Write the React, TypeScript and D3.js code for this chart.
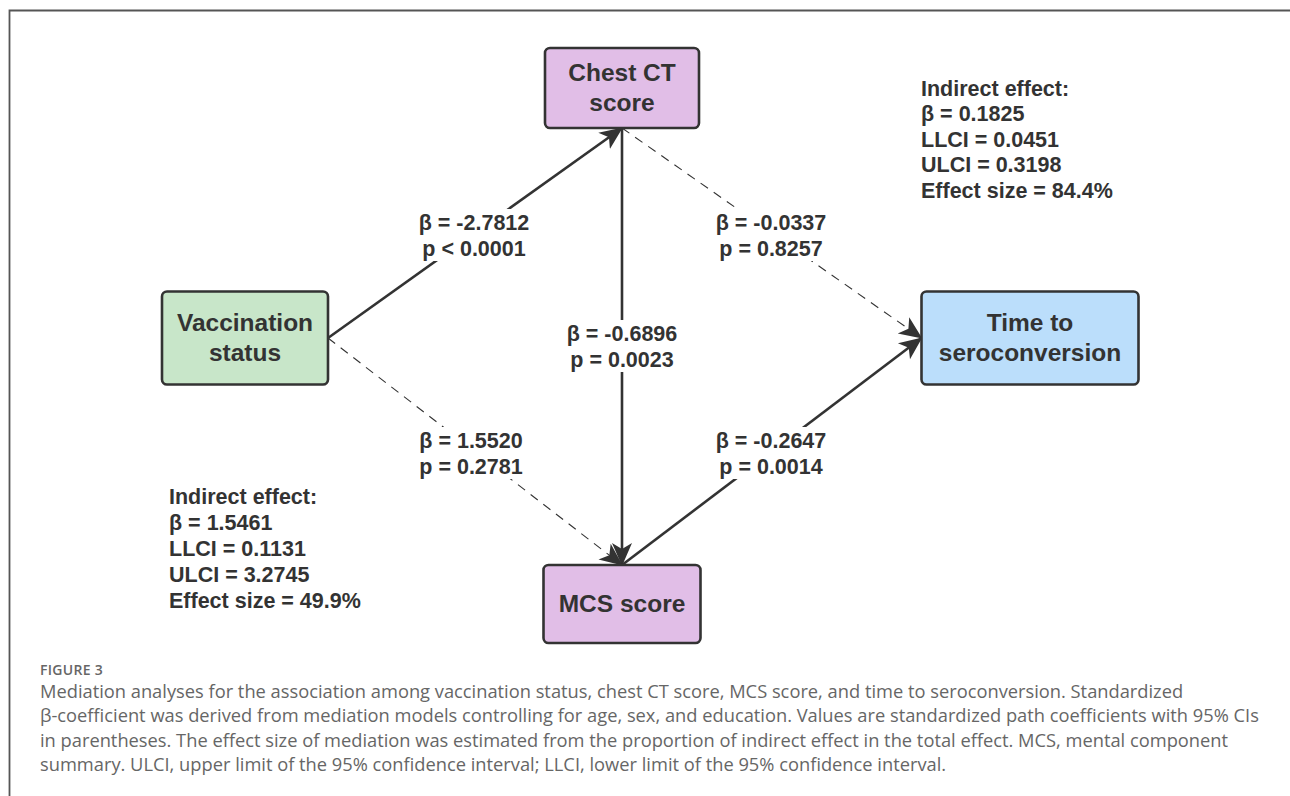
import React from "react";
import * as d3 from "d3";

const nodeNames = ["vacc", "chest", "mcs", "time"];
const nodeLines = [["Vaccination", "status"], ["Chest CT", "score"], ["MCS score"], ["Time to", "seroconversion"]];
const nodeCol = [0, 1, 1, 2];
const nodeRow = [1, 0, 2, 1];
const nodeFill = ["#c8e6c9", "#e1bee7", "#e1bee7", "#bbdefb"];
const nodeW = [166, 154, 157, 217];
const nodeH = [93, 80, 78, 93];

const edgeFrom = ["vacc", "chest", "chest", "vacc", "mcs"];
const edgeTo = ["chest", "time", "mcs", "mcs", "time"];
const edgeDashed = [false, true, false, true, false];
const edgeBeta = ["β = -2.7812", "β = -0.0337", "β = -0.6896", "β = 1.5520", "β = -0.2647"];
const edgeP = ["p < 0.0001", "p = 0.8257", "p = 0.0023", "p = 0.2781", "p = 0.0014"];

const indirectTop = ["Indirect effect:", "β = 0.1825", "LLCI = 0.0451", "ULCI = 0.3198", "Effect size = 84.4%"];
const indirectBottom = ["Indirect effect:", "β = 1.5461", "LLCI = 0.1131", "ULCI = 3.2745", "Effect size = 49.9%"];

const captionTitle = "FIGURE 3";
const captionLines = [
  "Mediation analyses for the association among vaccination status, chest CT score, MCS score, and time to seroconversion. Standardized",
  "β-coefficient was derived from mediation models controlling for age, sex, and education. Values are standardized path coefficients with 95% CIs",
  "in parentheses. The effect size of mediation was estimated from the proportion of indirect effect in the total effect. MCS, mental component",
  "summary. ULCI, upper limit of the 95% confidence interval; LLCI, lower limit of the 95% confidence interval.",
];

const W = 1290;
const H = 796;
const ink = "#333333";
const bold = "'Liberation Sans', Arial, sans-serif";

export default function App() {
  const x = d3.scaleLinear().domain([0, 1, 2]).range([245, 622, 1030]);
  const y = d3.scaleLinear().domain([0, 1, 2]).range([88, 338, 604]);

  const nodes = nodeNames.map((n, i) => {
    const cx = x(nodeCol[i]);
    const cy = y(nodeRow[i]);
    return { name: n, cx, cy, w: nodeW[i], h: nodeH[i], lines: nodeLines[i], fill: nodeFill[i] };
  });
  const byName: Record<string, any> = {};
  nodes.forEach((n) => (byName[n.name] = n));

  const anchor = (from: any, to: any) => {
    const dx = to.cx - from.cx;
    const dy = to.cy - from.cy;
    if (Math.abs(dx) < 1) return dy > 0 ? [from.cx, from.cy + from.h / 2] : [from.cx, from.cy - from.h / 2];
    if (from.name === "chest") return [from.cx, from.cy + from.h / 2];
    if (from.name === "mcs") return [from.cx, from.cy - from.h / 2];
    return dx > 0 ? [from.cx + from.w / 2, from.cy] : [from.cx - from.w / 2, from.cy];
  };

  const edges = edgeFrom.map((f, i) => {
    const a = byName[f];
    const b = byName[edgeTo[i]];
    const p0 = anchor(a, b);
    const p1 = anchor(b, a);
    return { p0, p1, dashed: edgeDashed[i], beta: edgeBeta[i], p: edgeP[i] };
  });
  const labelPos = [
    [474, 222],
    [771, 222],
    [622, 333],
    [471, 440],
    [771, 440],
  ];

  const line = d3.line();

  return (
    <svg width={W} height={H} style={{ display: "block", position: "absolute", left: 0, top: 0 }}>
      <defs>
        <marker id="ah" markerUnits="userSpaceOnUse" markerWidth={26} markerHeight={22} refX={22} refY={10} orient="auto" viewBox="0 0 26 20">
          <path d="M0,0 L23,10 L0,20 L6,10 Z" fill={ink} />
        </marker>
      </defs>
      <rect x={0} y={0} width={W} height={H} fill="#fff" />
      <path d={`M9.5,${H} L9.5,10.5 L${W},10.5`} fill="none" stroke="#555" strokeWidth={1.8} />
      {edges.map((e, i) => (
        <path
          key={"e" + i}
          d={line([e.p0 as [number, number], e.p1 as [number, number]]) || ""}
          stroke={ink}
          strokeWidth={e.dashed ? 1.1 : 2.6}
          strokeDasharray={e.dashed ? "9 7" : undefined}
          fill="none"
          markerEnd="url(#ah)"
        />
      ))}
      {nodes.map((n, i) => (
        <g key={"n" + i}>
          <rect x={n.cx - n.w / 2} y={n.cy - n.h / 2} width={n.w} height={n.h} rx={5} fill={n.fill} stroke={ink} strokeWidth={2.6} />
          {n.lines.map((t: string, j: number) => (
            <text
              key={j}
              x={n.cx}
              y={n.cy + (j - (n.lines.length - 1) / 2) * 30 + 7.5}
              textAnchor="middle"
              fontFamily={bold}
              fontWeight="bold"
              fontSize={24.5}
              fill={ink}
            >
              {t}
            </text>
          ))}
        </g>
      ))}
      {edges.map((e, i) => (
        <g key={"l" + i} fontFamily={bold} fontWeight="bold" fontSize={21.5} fill={ink} textAnchor="middle">
          <rect x={labelPos[i][0] - 60} y={labelPos[i][1] - 13} width={120} height={52} fill="#fff" />
          <text x={labelPos[i][0]} y={labelPos[i][1] + 7.5}>{e.beta}</text>
          <text x={labelPos[i][0]} y={labelPos[i][1] + 33.5}>{e.p}</text>
        </g>
      ))}
      <g fontFamily={bold} fontWeight="bold" fontSize={21.5} fill={ink}>
        {indirectTop.map((t, i) => (
          <text key={"it" + i} x={921} y={95.5 + i * 25.6}>{t}</text>
        ))}
        {indirectBottom.map((t, i) => (
          <text key={"ib" + i} x={169} y={503.5 + i * 26}>{t}</text>
        ))}
      </g>
      <text x={40} y={675} fontFamily="'Open Sans', sans-serif" fontSize={14} fontWeight={600} fill="#666" letterSpacing={0.3}>
        {captionTitle}
      </text>
      {captionLines.map((t, i) => (
        <text key={"c" + i} x={40} y={698 + i * 24.4} fontFamily="'Open Sans', sans-serif" fontSize={18.3} fill="#666">
          {t}
        </text>
      ))}
    </svg>
  );
}
